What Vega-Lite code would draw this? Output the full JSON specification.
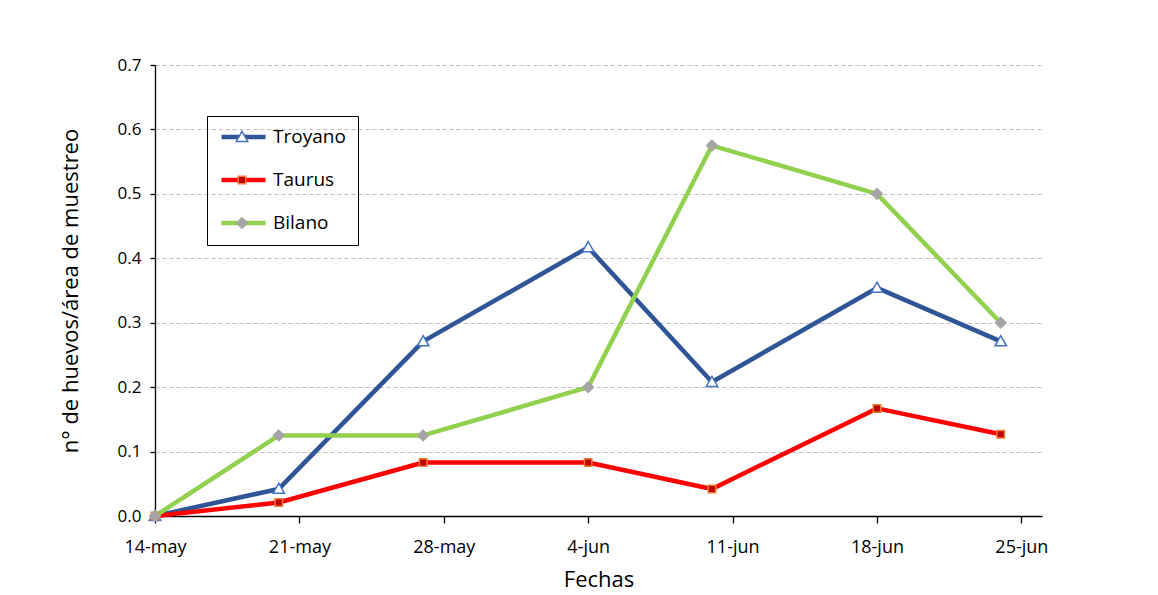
{
  "$schema": "https://vega.github.io/schema/vega-lite/v6.json",
  "width": 887,
  "height": 451,
  "autosize": {"type": "none"},
  "padding": {"left": 155, "top": 65, "right": 116, "bottom": 79},
  "background": "white",
  "config": {
    "view": {"stroke": null},
    "font": "Open Sans"
  },
  "data": {
    "values": [
      {"fecha": "2021-05-14", "serie": "Troyano", "valor": 0},
      {"fecha": "2021-05-14", "serie": "Taurus", "valor": 0},
      {"fecha": "2021-05-14", "serie": "Bilano", "valor": 0},
      {"fecha": "2021-05-20", "serie": "Troyano", "valor": 0.042},
      {"fecha": "2021-05-20", "serie": "Taurus", "valor": 0.021},
      {"fecha": "2021-05-20", "serie": "Bilano", "valor": 0.125},
      {"fecha": "2021-05-27", "serie": "Troyano", "valor": 0.271},
      {"fecha": "2021-05-27", "serie": "Taurus", "valor": 0.083},
      {"fecha": "2021-05-27", "serie": "Bilano", "valor": 0.125},
      {"fecha": "2021-06-04", "serie": "Troyano", "valor": 0.417},
      {"fecha": "2021-06-04", "serie": "Taurus", "valor": 0.083},
      {"fecha": "2021-06-04", "serie": "Bilano", "valor": 0.2},
      {"fecha": "2021-06-10", "serie": "Troyano", "valor": 0.208},
      {"fecha": "2021-06-10", "serie": "Taurus", "valor": 0.042},
      {"fecha": "2021-06-10", "serie": "Bilano", "valor": 0.575},
      {"fecha": "2021-06-18", "serie": "Troyano", "valor": 0.354},
      {"fecha": "2021-06-18", "serie": "Taurus", "valor": 0.167},
      {"fecha": "2021-06-18", "serie": "Bilano", "valor": 0.5},
      {"fecha": "2021-06-24", "serie": "Troyano", "valor": 0.271},
      {"fecha": "2021-06-24", "serie": "Taurus", "valor": 0.127},
      {"fecha": "2021-06-24", "serie": "Bilano", "valor": 0.3}
    ]
  },
  "encoding": {
    "x": {
      "field": "fecha",
      "type": "temporal",
      "scale": {
        "type": "utc",
        "domain": [
          {"year": 2021, "month": 5, "date": 14, "utc": true},
          {"year": 2021, "month": 6, "date": 26, "utc": true}
        ]
      },
      "axis": {
        "title": "Fechas",
        "titleFont": "Open Sans",
        "titleFontSize": 22,
        "titleFontWeight": "normal",
        "titleColor": "#000000",
        "titlePadding": 13,
        "values": [
          {"year": 2021, "month": 5, "date": 14, "utc": true},
          {"year": 2021, "month": 5, "date": 21, "utc": true},
          {"year": 2021, "month": 5, "date": 28, "utc": true},
          {"year": 2021, "month": 6, "date": 4, "utc": true},
          {"year": 2021, "month": 6, "date": 11, "utc": true},
          {"year": 2021, "month": 6, "date": 18, "utc": true},
          {"year": 2021, "month": 6, "date": 25, "utc": true}
        ],
        "labelExpr": "utcFormat(datum.value, '%-d') + '-' + (utcmonth(datum.value) == 4 ? 'may' : 'jun')",
        "labelFlush": false,
        "labelOverlap": false,
        "labelFont": "Open Sans",
        "labelFontSize": 18,
        "labelColor": "#000000",
        "labelPadding": 15,
        "tickSize": 7,
        "tickColor": "#000000",
        "tickWidth": 1.3,
        "domainColor": "#000000",
        "domainWidth": 1.3,
        "grid": false
      }
    },
    "y": {
      "field": "valor",
      "type": "quantitative",
      "scale": {"domain": [0, 0.7], "nice": false, "zero": true},
      "axis": {
        "title": "n° de huevos/área de muestreo",
        "titleFont": "Open Sans",
        "titleFontSize": 22,
        "titleFontWeight": "normal",
        "titleColor": "#000000",
        "titlePadding": 35,
        "values": [0, 0.1, 0.2, 0.3, 0.4, 0.5, 0.6, 0.7],
        "format": ".1f",
        "labelFont": "Open Sans",
        "labelFontSize": 17,
        "labelColor": "#000000",
        "labelPadding": 9,
        "tickSize": 5,
        "tickColor": "#000000",
        "tickWidth": 1.3,
        "domainColor": "#000000",
        "domainWidth": 1.3,
        "grid": true,
        "gridColor": "#BFBFBF",
        "gridDash": [4, 3],
        "gridWidth": 1
      }
    }
  },
  "layer": [
    {
      "mark": {"type": "line", "strokeWidth": 4.5, "strokeJoin": "round"},
      "encoding": {
        "color": {
          "field": "serie",
          "type": "nominal",
          "scale": {
            "domain": ["Troyano", "Taurus", "Bilano"],
            "range": ["#2F5597", "#FF0000", "#92D050"]
          },
          "legend": {
            "title": null,
            "orient": "none",
            "legendX": 52,
            "legendY": 51,
            "padding": 12,
            "strokeColor": "#000000",
            "symbolType": "M-1,0H1",
            "symbolSize": 1936,
            "symbolStrokeWidth": 4.5,
            "clipHeight": 18,
            "rowPadding": 24,
            "labelOffset": 5,
            "labelFont": "Open Sans",
            "labelFontSize": 19,
            "labelColor": "#000000",
            "zindex": 0
          }
        }
      }
    },
    {
      "mark": {"type": "point", "filled": true, "size": 1936, "strokeWidth": 1.5, "opacity": 1},
      "encoding": {
        "shape": {
          "field": "serie",
          "type": "nominal",
          "sort": null,
          "scale": {
            "range": [
              "M0,-0.26L0.26,0.2L-0.26,0.2Z",
              "M-0.17,-0.17H0.17V0.17H-0.17Z",
              "M0,-0.24L0.24,0L0,0.24L-0.24,0Z"
            ]
          },
          "legend": {
            "title": null,
            "orient": "none",
            "legendX": 52,
            "legendY": 51,
            "padding": 12,
            "symbolSize": 1936,
            "symbolStrokeWidth": 1.5,
            "clipHeight": 18,
            "rowPadding": 24,
            "labelOffset": 5,
            "labelExpr": "''",
            "labelFontSize": 19,
            "zindex": 1
          }
        },
        "fill": {
          "field": "serie",
          "type": "nominal",
          "sort": null,
          "scale": {"range": ["#FFFFFF", "#C00000", "#A5A5A5"]},
          "legend": {
            "title": null,
            "orient": "none",
            "legendX": 52,
            "legendY": 51,
            "padding": 12,
            "symbolSize": 1936,
            "symbolStrokeWidth": 1.5,
            "clipHeight": 18,
            "rowPadding": 24,
            "labelOffset": 5,
            "labelExpr": "''",
            "labelFontSize": 19,
            "zindex": 1
          }
        },
        "stroke": {
          "field": "serie",
          "type": "nominal",
          "sort": null,
          "scale": {"range": ["#4472C4", "#ED7D31", "#A5A5A5"]},
          "legend": {
            "title": null,
            "orient": "none",
            "legendX": 52,
            "legendY": 51,
            "padding": 12,
            "symbolSize": 1936,
            "symbolStrokeWidth": 1.5,
            "clipHeight": 18,
            "rowPadding": 24,
            "labelOffset": 5,
            "labelExpr": "''",
            "labelFontSize": 19,
            "zindex": 1
          }
        }
      }
    }
  ]
}
